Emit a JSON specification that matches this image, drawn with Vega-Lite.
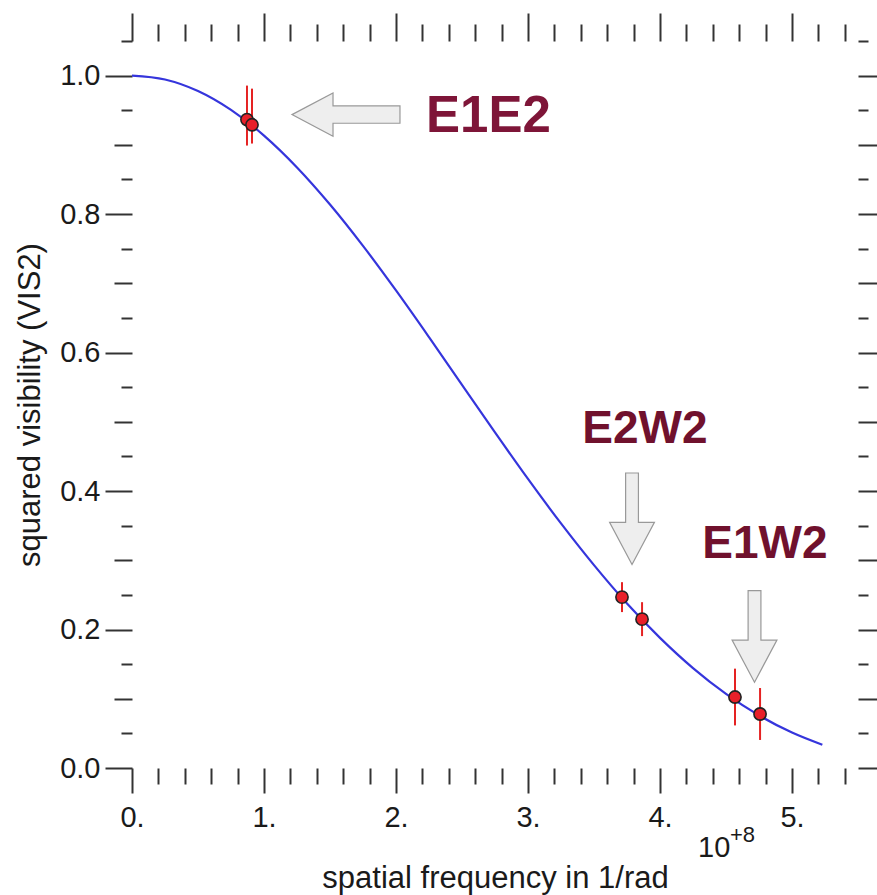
{
  "$schema": "https://vega.github.io/schema/vega-lite/v6.json",
  "width": 726,
  "height": 727,
  "autosize": "none",
  "padding": {"left": 132, "top": 41, "right": 19, "bottom": 127},
  "background": "white",
  "config": {"view": {"stroke": null}},
  "datasets": {
    "curve": [
      {"u": 0, "v": 1},
      {"u": 0.25, "v": 0.99439},
      {"u": 0.5, "v": 0.97771},
      {"u": 0.75, "v": 0.95043},
      {"u": 1.0, "v": 0.91331},
      {"u": 1.25, "v": 0.86735},
      {"u": 1.5, "v": 0.8138},
      {"u": 1.75, "v": 0.75408},
      {"u": 2.0, "v": 0.6897},
      {"u": 2.25, "v": 0.62228},
      {"u": 2.5, "v": 0.55334},
      {"u": 2.75, "v": 0.48466},
      {"u": 3.0, "v": 0.41746},
      {"u": 3.25, "v": 0.3532},
      {"u": 3.5, "v": 0.29294},
      {"u": 3.75, "v": 0.23745},
      {"u": 4.0, "v": 0.18792},
      {"u": 4.25, "v": 0.14428},
      {"u": 4.5, "v": 0.107},
      {"u": 4.75, "v": 0.07598},
      {"u": 5.0, "v": 0.05111},
      {"u": 5.23, "v": 0.0335}
    ],
    "obs": [
      {"u": 0.871, "v": 0.9365, "lo": 0.899, "hi": 0.9856},
      {"u": 0.909, "v": 0.929, "lo": 0.9019, "hi": 0.9812},
      {"u": 3.712, "v": 0.2468, "lo": 0.2252, "hi": 0.2684},
      {"u": 3.864, "v": 0.215, "lo": 0.1905, "hi": 0.2395},
      {"u": 4.568, "v": 0.1025, "lo": 0.0615, "hi": 0.1435},
      {"u": 4.758, "v": 0.078, "lo": 0.0405, "hi": 0.1155}
    ],
    "arrowLeft": [{"u": 1.621, "v": 0.9437}],
    "arrowDown": [{"u": 3.788, "v": 0.36}, {"u": 4.716, "v": 0.19}],
    "labelBig": [
      {"u": 2.7, "v": 0.919, "t": "E1E2"}
    ],
    "labels": [
      {"u": 3.886, "v": 0.469, "t": "E2W2"},
      {"u": 4.795, "v": 0.303, "t": "E1W2"}
    ],
    "base": [{"u": 4.288, "v": -0.1284, "t": "10"}],
    "expo": [{"u": 4.53, "v": -0.1068, "t": "+8"}]
  },
  "resolve": {"axis": {"x": "independent", "y": "independent"}},
  "layer": [
    {
      "data": {"name": "curve"},
      "mark": {"type": "line", "interpolate": "monotone", "color": "#3535dc", "strokeWidth": 2.2},
      "encoding": {
        "x": {
          "field": "u", "type": "quantitative",
          "scale": {"domain": [0, 5.5], "nice": false, "zero": false},
          "axis": {
            "orient": "bottom", "domain": false, "grid": false,
            "values": [0, 0.2, 0.4, 0.6, 0.8, 1, 1.2, 1.4, 1.6, 1.8, 2, 2.2, 2.4, 2.6, 2.8, 3, 3.2, 3.4, 3.6, 3.8, 4, 4.2, 4.4, 4.6, 4.8, 5, 5.2, 5.4],
            "tickColor": "#333333", "tickWidth": 2,
            "tickSize": {"condition": {"test": "abs(datum.value-round(datum.value))<0.001", "value": 25}, "value": 16},
            "labelExpr": "abs(datum.value-round(datum.value))<0.001 ? format(datum.value,'d')+'.' : ''",
            "labelFont": "Liberation Sans", "labelFontSize": 29, "labelColor": "#1a1a1a",
            "labelPadding": 10, "labelOverlap": false, "labelFlush": false,
            "title": "spatial frequency in 1/rad",
            "titleFont": "Liberation Sans", "titleFontSize": 31, "titleFontWeight": "normal",
            "titleColor": "#1a1a1a", "titleBaseline": "alphabetic", "titleY": 119
          }
        },
        "y": {
          "field": "v", "type": "quantitative",
          "scale": {"domain": [0, 1.05], "nice": false, "zero": false},
          "axis": {
            "orient": "left", "domain": false, "grid": false,
            "values": [0, 0.05, 0.1, 0.15, 0.2, 0.25, 0.3, 0.35, 0.4, 0.45, 0.5, 0.55, 0.6, 0.65, 0.7, 0.75, 0.8, 0.85, 0.9, 0.95, 1.0, 1.05],
            "tickColor": "#333333", "tickWidth": 2,
            "tickSize": {"condition": [
              {"test": "abs(datum.value*5-round(datum.value*5))<0.001", "value": 27},
              {"test": "abs(datum.value*10-round(datum.value*10))<0.001", "value": 18}
            ], "value": 11},
            "labelExpr": "abs(datum.value*5-round(datum.value*5))<0.001 ? format(datum.value,'.1f') : ''",
            "labelFont": "Liberation Sans", "labelFontSize": 29, "labelColor": "#1a1a1a",
            "labelPadding": 5, "labelOverlap": false, "labelFlush": false,
            "title": "squared visibility (VIS2)",
            "titleFont": "Liberation Sans", "titleFontSize": 31, "titleFontWeight": "normal",
            "titleColor": "#1a1a1a", "titleBaseline": "alphabetic", "titleX": -93
          }
        }
      }
    },
    {
      "data": {"name": "obs"},
      "mark": {"type": "rule", "color": "#e52222", "strokeWidth": 2},
      "encoding": {
        "x": {
          "field": "u", "type": "quantitative",
          "scale": {"domain": [0, 5.5], "nice": false, "zero": false},
          "axis": {
            "orient": "top", "domain": false, "grid": false, "labels": false, "title": null,
            "values": [0, 0.2, 0.4, 0.6, 0.8, 1, 1.2, 1.4, 1.6, 1.8, 2, 2.2, 2.4, 2.6, 2.8, 3, 3.2, 3.4, 3.6, 3.8, 4, 4.2, 4.4, 4.6, 4.8, 5, 5.2, 5.4],
            "tickColor": "#333333", "tickWidth": 2,
            "tickSize": {"condition": {"test": "abs(datum.value-round(datum.value))<0.001", "value": 28}, "value": 17}
          }
        },
        "y": {
          "field": "lo", "type": "quantitative",
          "scale": {"domain": [0, 1.05], "nice": false, "zero": false},
          "axis": {
            "orient": "right", "domain": false, "grid": false, "labels": false, "title": null,
            "values": [0, 0.05, 0.1, 0.15, 0.2, 0.25, 0.3, 0.35, 0.4, 0.45, 0.5, 0.55, 0.6, 0.65, 0.7, 0.75, 0.8, 0.85, 0.9, 0.95, 1.0, 1.05],
            "tickColor": "#333333", "tickWidth": 2,
            "tickSize": {"condition": {"test": "abs(datum.value*10-round(datum.value*10))<0.001", "value": 19}, "value": 10}
          }
        },
        "y2": {"field": "hi"}
      }
    },
    {
      "data": {"name": "obs"},
      "mark": {"type": "point", "shape": "circle", "filled": true, "fill": "#e8202a", "stroke": "#222222", "strokeWidth": 1.6, "size": 150, "opacity": 1},
      "encoding": {
        "x": {"field": "u", "type": "quantitative", "axis": null},
        "y": {"field": "v", "type": "quantitative", "axis": null}
      }
    },
    {
      "data": {"name": "arrowLeft"},
      "mark": {"type": "point", "shape": "M -1 0 L -0.24 -0.4 L -0.24 -0.16 L 1 -0.16 L 1 0.16 L -0.24 0.16 L -0.24 0.4 Z", "size": 11664, "filled": true, "fill": "#eeeeee", "stroke": "#999999", "strokeWidth": 1.2, "opacity": 1},
      "encoding": {
        "x": {"field": "u", "type": "quantitative", "axis": null},
        "y": {"field": "v", "type": "quantitative", "axis": null}
      }
    },
    {
      "data": {"name": "arrowDown"},
      "mark": {"type": "point", "shape": "M -0.14 -1 L 0.14 -1 L 0.14 0.08 L 0.49 0.08 L 0 1 L -0.49 0.08 L -0.14 0.08 Z", "size": 8372, "filled": true, "fill": "#eeeeee", "stroke": "#999999", "strokeWidth": 1.2, "opacity": 1},
      "encoding": {
        "x": {"field": "u", "type": "quantitative", "axis": null},
        "y": {"field": "v", "type": "quantitative", "axis": null}
      }
    },
    {
      "data": {"name": "labelBig"},
      "mark": {"type": "text", "font": "Liberation Sans", "fontSize": 51, "fontWeight": "bold", "color": "#7e1538", "align": "center", "baseline": "alphabetic"},
      "encoding": {
        "x": {"field": "u", "type": "quantitative", "axis": null},
        "y": {"field": "v", "type": "quantitative", "axis": null},
        "text": {"field": "t"}
      }
    },
    {
      "data": {"name": "labels"},
      "mark": {"type": "text", "font": "Liberation Sans", "fontSize": 46, "fontWeight": "bold", "color": "#70112d", "align": "center", "baseline": "alphabetic"},
      "encoding": {
        "x": {"field": "u", "type": "quantitative", "axis": null},
        "y": {"field": "v", "type": "quantitative", "axis": null},
        "text": {"field": "t"}
      }
    },
    {
      "data": {"name": "base"},
      "mark": {"type": "text", "font": "Liberation Sans", "fontSize": 29, "color": "#1a1a1a", "align": "left", "baseline": "alphabetic"},
      "encoding": {
        "x": {"field": "u", "type": "quantitative", "axis": null},
        "y": {"field": "v", "type": "quantitative", "axis": null},
        "text": {"field": "t"}
      }
    },
    {
      "data": {"name": "expo"},
      "mark": {"type": "text", "font": "Liberation Sans", "fontSize": 22, "color": "#1a1a1a", "align": "left", "baseline": "alphabetic"},
      "encoding": {
        "x": {"field": "u", "type": "quantitative", "axis": null},
        "y": {"field": "v", "type": "quantitative", "axis": null},
        "text": {"field": "t"}
      }
    }
  ]
}
